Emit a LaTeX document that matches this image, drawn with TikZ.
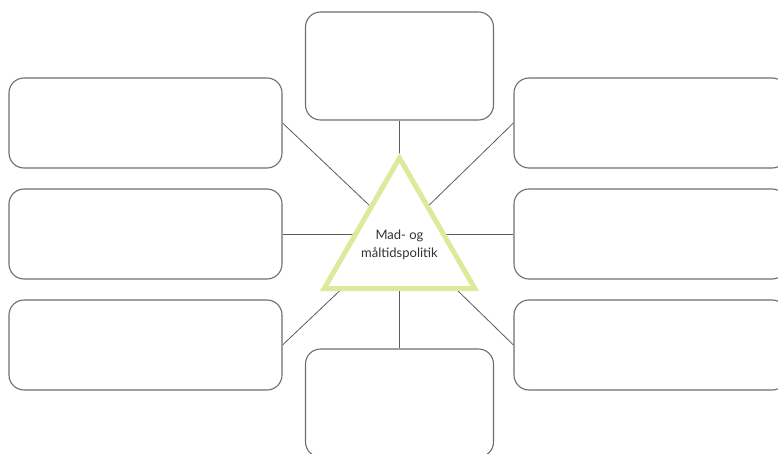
\documentclass[tikz,border=0pt]{standalone}
\usepackage{fontspec}
\setmainfont{Lato}
\usetikzlibrary{positioning}
\definecolor{frame}{HTML}{6E6E6E}
\definecolor{spoke}{HTML}{5C5C5C}
\definecolor{lime}{HTML}{DDE99B}
\definecolor{label}{HTML}{333333}

\begin{document}
\begin{tikzpicture}[x=1pt,y=-1pt,
  box/.style={draw=frame,line width=1.1pt,rounded corners=15pt,fill=white,inner sep=0pt},
  sidebox/.style={box,minimum width=273pt,minimum height=90pt},
  midbox/.style={box,minimum width=188pt,minimum height=108pt},
  link/.style={draw=spoke,line width=0.8pt}]
\useasboundingbox (0,0) rectangle (778,454);
\clip (0,0) rectangle (778,454);
% boxes round the triangle
\node[midbox] (top) at (399.5,66) {};
\node[midbox] (bottom) at (399.5,403) {};
\node[sidebox] (lefttop) at (145.5,123) {};
\node[sidebox] (leftmid) at (145.5,234) {};
\node[sidebox] (leftbot) at (145.5,345) {};
\node[sidebox] (righttop) at (650.5,123) {};
\node[sidebox] (rightmid) at (650.5,234) {};
\node[sidebox] (rightbot) at (650.5,345) {};
% spokes from the middle
\coordinate (hub) at (399.5,234);
\foreach \b/\a in {top/south,bottom/north,lefttop/east,leftmid/east,leftbot/east,righttop/west,rightmid/west,rightbot/west}
  \draw[link] (hub) -- (\b.\a);
% the triangle
\draw[lime,line width=5pt,fill=white,line join=miter] (399.5,158) -- (474.8,288.5) -- (324.2,288.5) -- cycle;
\node[text=label,align=center,inner sep=0pt,font=\fontsize{13}{18}\selectfont] (core) at (399.5,245) {Mad- og\\måltidspolitik};
\end{tikzpicture}
\end{document}
